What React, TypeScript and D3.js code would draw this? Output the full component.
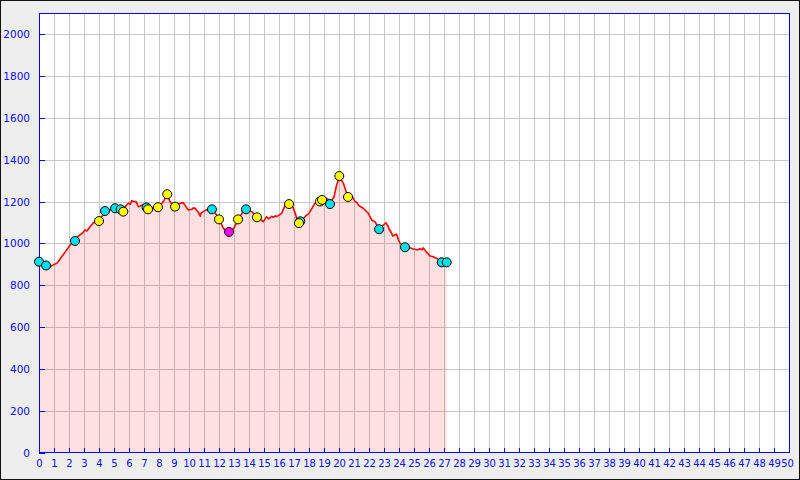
import React from 'react';
import * as d3 from 'd3';

// elevation profile: distance (km) and height (m)
const distKm = [
  0, 0.25, 0.5, 0.73, 0.95, 1.18, 1.35, 1.51, 1.7, 1.84, 2.0, 2.18, 2.4, 2.55, 2.73, 2.9, 3.07, 3.2, 3.4, 3.55,
  3.73, 3.85, 4.0, 4.2, 4.4, 4.55, 4.73, 4.9, 5.07, 5.25, 5.44, 5.62, 5.8, 5.96, 6.1, 6.18, 6.3, 6.47, 6.62, 6.73,
  6.85, 6.96, 7.1, 7.29, 7.45, 7.62, 7.8, 7.96, 8.1, 8.29, 8.45, 8.55, 8.65, 8.73, 8.9, 9.07, 9.2, 9.4, 9.62, 9.8,
  9.96, 10.18, 10.3, 10.4, 10.55, 10.62, 10.75, 10.8, 10.96, 11.1, 11.29, 11.45, 11.55, 11.8, 12.02, 12.15, 12.29, 12.5, 12.67, 12.85,
  13.0, 13.15, 13.29, 13.5, 13.65, 13.8, 14.0, 14.18, 14.35, 14.55, 14.75, 14.96, 15.1, 15.18, 15.3, 15.4, 15.5, 15.62, 15.75, 15.84,
  16.0, 16.18, 16.3, 16.4, 16.55, 16.69, 16.85, 16.96, 17.1, 17.18, 17.35, 17.51, 17.7, 17.84, 17.95, 18.07, 18.25, 18.4, 18.6, 18.73,
  18.9, 19.13, 19.3, 19.4, 19.55, 19.67, 19.75, 19.84, 20.02, 20.15, 20.29, 20.51, 20.62, 20.84, 20.95, 21.07, 21.2, 21.29, 21.45, 21.62,
  21.8, 21.96, 22.05, 22.18, 22.4, 22.55, 22.69, 22.85, 22.96, 23.13, 23.25, 23.35, 23.5, 23.58, 23.7, 23.84, 23.95, 24.07, 24.25, 24.4,
  24.6, 24.73, 24.9, 25.07, 25.25, 25.4, 25.55, 25.62, 25.8, 25.95, 26.07, 26.25, 26.4, 26.55, 26.69, 26.75, 26.84, 27.0, 27.18,
];
const elevM = [
  913, 900, 893, 889, 898, 905, 920, 937, 955, 969, 985, 1001, 1012, 1030, 1041, 1050, 1064, 1060, 1080, 1092,
  1104, 1100, 1110, 1130, 1152, 1150, 1160, 1165, 1168, 1172, 1163, 1160, 1180, 1192, 1188, 1204, 1200, 1200, 1176, 1178,
  1182, 1187, 1180, 1170, 1175, 1168, 1172, 1176, 1185, 1200, 1220, 1232, 1215, 1200, 1185, 1178, 1185, 1192, 1195, 1175,
  1160, 1163, 1170, 1168, 1155, 1150, 1130, 1145, 1152, 1158, 1163, 1170, 1165, 1140, 1118, 1095, 1073, 1058, 1055, 1062,
  1075, 1095, 1115, 1140, 1160, 1163, 1158, 1152, 1140, 1127, 1115, 1104, 1120, 1128, 1118, 1122, 1130, 1125, 1132, 1128,
  1135, 1144, 1165, 1179, 1188, 1190, 1180, 1168, 1140, 1120, 1100, 1109, 1125, 1136, 1140, 1152, 1175, 1192, 1198, 1202,
  1212, 1216, 1210, 1195, 1210, 1223, 1250, 1279, 1315, 1305, 1287, 1240, 1225, 1230, 1215, 1200, 1195, 1184, 1175, 1168,
  1155, 1144, 1130, 1112, 1104, 1085, 1070, 1080, 1088, 1099, 1085, 1068, 1050, 1036, 1040, 1045, 1020, 1001, 992, 982,
  985, 980, 975, 972, 970, 975, 970, 979, 961, 950, 940, 938, 932, 928, 922, 930, 912, 910, 910,
];

// waypoints along the track
const markerKm = [0, 0.47, 2.4, 4.4, 5.07, 5.44, 7.17, 11.53, 13.8, 17.42, 19.4, 22.67, 24.4, 26.85, 27.18,
  4.0, 5.62, 7.27, 7.93, 8.55, 9.07, 12.0, 13.27, 14.53, 16.67, 17.33, 18.73, 18.87, 20.02, 20.6, 12.67];
const markerElev = [913, 895, 1012, 1155, 1168, 1163, 1172, 1163, 1163, 1106, 1188, 1068, 982, 910, 910,
  1107, 1152, 1163, 1173, 1235, 1176, 1115, 1115, 1125, 1188, 1097, 1200, 1208, 1322, 1222, 1055];
const markerKind = ['c', 'c', 'c', 'c', 'c', 'c', 'c', 'c', 'c', 'c', 'c', 'c', 'c', 'c', 'c',
  'y', 'y', 'y', 'y', 'y', 'y', 'y', 'y', 'y', 'y', 'y', 'y', 'y', 'y', 'y', 'm'];

const xTicks = d3.range(0, 51, 1);
const yTicks = d3.range(0, 2001, 200);

const W = 800;
const H = 480;
const plot = { left: 39, right: 789, top: 13, bottom: 453 };
const kindFill: Record<string, string> = { c: '#00e0e8', y: '#ffff00', m: '#ff00ff' };
const axisBlue = '#0000ff';
const labelBlue = '#0c0cff';

const App: React.FC = () => {
  const x = d3.scaleLinear().domain([0, 50]).range([plot.left, plot.right]);
  const y = d3.scaleLinear().domain([0, 2100]).range([plot.bottom, plot.top]);

  const pts = distKm.map((d, i) => [d, elevM[i]] as [number, number]);
  const line = d3.line<[number, number]>().x(d => x(d[0])).y(d => y(d[1]));
  const area = d3.area<[number, number]>().x(d => x(d[0])).y0(y(0)).y1(d => y(d[1]));

  return (
    <svg width={W} height={H} style={{ position: 'absolute', left: 0, top: 0, display: 'block' }}
      fontFamily="DejaVu Sans" fontSize={10.5}>
      <rect x={0.5} y={0.5} width={W - 1} height={H - 1} fill="#eeeeee" stroke="#111" />
      <rect x={plot.left} y={plot.top} width={plot.right - plot.left} height={plot.bottom - plot.top} fill="#fff" />

      {/* grid */}
      {xTicks.slice(1, -1).map(t => (
        <line key={'gx' + t} x1={x(t) + 0.5} x2={x(t) + 0.5} y1={plot.top} y2={plot.bottom} stroke="#c8c8c8" />
      ))}
      {yTicks.slice(1).map(t => (
        <line key={'gy' + t} x1={plot.left} x2={plot.right} y1={Math.round(y(t)) + 0.5} y2={Math.round(y(t)) + 0.5} stroke="#c8c8c8" />
      ))}

      <path d={area(pts) || ''} fill="rgba(255,0,0,0.12)" />
      <path d={line(pts) || ''} fill="none" stroke="#ff0000" strokeWidth={1.6} strokeLinejoin="round" />

      {/* frame */}
      <rect x={plot.left + 0.5} y={plot.top + 0.5} width={plot.right - plot.left} height={plot.bottom - plot.top - 1}
        fill="none" stroke={axisBlue} />
      {xTicks.map(t => (
        <line key={'tx' + t} x1={x(t) + 0.5} x2={x(t) + 0.5} y1={plot.bottom} y2={plot.bottom - 5} stroke={axisBlue} />
      ))}
      {yTicks.map(t => (
        <line key={'ty' + t} x1={plot.left} x2={plot.left + 6} y1={Math.round(y(t)) + 0.5} y2={Math.round(y(t)) + 0.5} stroke={axisBlue} />
      ))}

      {/* markers */}
      {markerKm.map((m, i) => (
        <circle key={'m' + i} cx={x(m)} cy={y(markerElev[i])} r={4.5} fill={kindFill[markerKind[i]]}
          stroke="#000" strokeWidth={1} />
      ))}

      {/* labels */}
      {xTicks.map(t => (
        <text key={'lx' + t} x={Math.min(x(t) + 0.5, 787.5)} y={467} fontSize={10} textAnchor="middle" fill={labelBlue}>{t}</text>
      ))}
      {yTicks.map(t => (
        <text key={'ly' + t} x={30} y={y(t) + 4} textAnchor="end" fill={labelBlue}>{t}</text>
      ))}
    </svg>
  );
};

export default App;
